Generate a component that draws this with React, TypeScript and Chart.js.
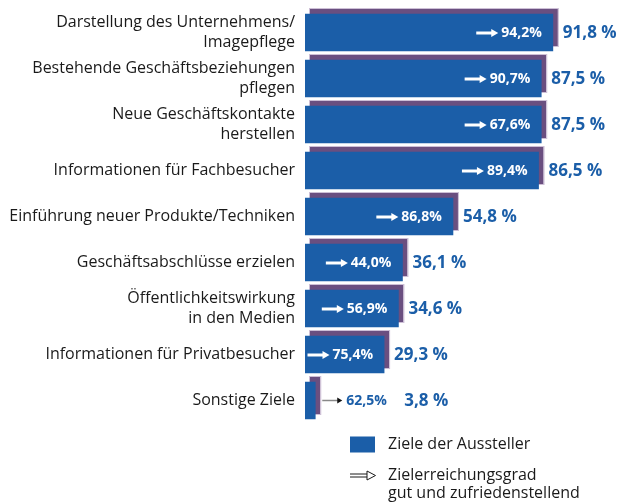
import React, { useEffect, useRef } from "react";
import { Chart, registerables } from "chart.js";

Chart.register(...registerables);

const categories: string[][] = [
  ["Darstellung des Unternehmens/", "Imagepflege"],
  ["Bestehende Geschäftsbeziehungen", "pflegen"],
  ["Neue Geschäftskontakte", "herstellen"],
  ["Informationen für Fachbesucher"],
  ["Einführung neuer Produkte/Techniken"],
  ["Geschäftsabschlüsse erzielen"],
  ["Öffentlichkeitswirkung", "in den Medien"],
  ["Informationen für Privatbesucher"],
  ["Sonstige Ziele"],
];
const zieleValues = [91.8, 87.5, 87.5, 86.5, 54.8, 36.1, 34.6, 29.3, 3.8];
const erreichungValues = [94.2, 90.7, 67.6, 89.4, 86.8, 44.0, 56.9, 75.4, 62.5];
const legendLabels = ["Ziele der Aussteller", "Zielerreichungsgrad", "gut und zufriedenstellend"];

const BLUE = "#1b5ea8";
const PURPLE = "#6a4f80";
const FONT = "'Open Sans', 'Noto Sans', sans-serif";

const fmt = (v: number) => v.toFixed(1).replace(".", ",");

function drawArrow(ctx: CanvasRenderingContext2D, x0: number, x1: number, y: number, color: string, lw: number, headW: number, headH: number, headColor?: string) {
  ctx.save();
  ctx.strokeStyle = color;
  ctx.lineWidth = lw;
  ctx.beginPath();
  ctx.moveTo(x0, y);
  ctx.lineTo(x1 - headW + 1, y);
  ctx.stroke();
  ctx.fillStyle = headColor || color;
  ctx.beginPath();
  ctx.moveTo(x1 - headW, y - headH / 2);
  ctx.lineTo(x1, y);
  ctx.lineTo(x1 - headW, y + headH / 2);
  ctx.closePath();
  ctx.fill();
  ctx.restore();
}

const shadowPlugin = {
  id: "shadowPlugin",
  beforeDatasetsDraw(chart: any) {
    const ctx = chart.ctx as CanvasRenderingContext2D;
    const meta = chart.getDatasetMeta(0);
    ctx.save();
    meta.data.forEach((bar: any) => {
      const { x, y, base, height } = bar.getProps(["x", "y", "base", "height"], true);
      const left = base + 5;
      const top = y - height / 2 - 5;
      const w = x + 5 - left;
      ctx.fillStyle = PURPLE;
      ctx.fillRect(left, top, w, height);
      ctx.strokeStyle = "#cdbfd6";
      ctx.lineWidth = 1;
      ctx.strokeRect(left - 0.5, top - 0.5, w + 1, height + 1);
    });
    ctx.restore();
  },
  afterDatasetsDraw(chart: any) {
    const ctx = chart.ctx as CanvasRenderingContext2D;
    const meta = chart.getDatasetMeta(0);
    ctx.save();
    ctx.textBaseline = "middle";
    meta.data.forEach((bar: any, i: number) => {
      const { x, y, base } = bar.getProps(["x", "y", "base"], true);
      const width = x - base;
      const inner = fmt(erreichungValues[i]) + "%";
      const inside = width > 40;
      ctx.font = `bold 14px ${FONT}`;
      if (inside) {
        const tw = ctx.measureText(inner).width;
        const tx = x - 11 - tw;
        ctx.fillStyle = "#ffffff";
        ctx.textAlign = "left";
        ctx.fillText(inner, tx, y + 1);
        drawArrow(ctx, tx - 25, tx - 3, y + 0.5, "#ffffff", 3, 7, 8);
      } else {
        const ax0 = x + 7;
        const ax1 = ax0 + 20;
        drawArrow(ctx, ax0, ax1, y, "#888888", 1.5, 5, 6, "#111111");
        ctx.fillStyle = BLUE;
        ctx.textAlign = "left";
        ctx.fillText(inner, ax1 + 4, y + 1);
      }
      ctx.font = `bold 17px ${FONT}`;
      ctx.fillStyle = BLUE;
      ctx.textAlign = "left";
      const outer = fmt(zieleValues[i]) + " %";
      const ox = inside ? x + 10 : x + 89;
      ctx.fillText(outer, ox, y + 1);
    });
    ctx.restore();
  },
  afterDraw(chart: any) {
    const ctx = chart.ctx as CanvasRenderingContext2D;
    const area = chart.chartArea;
    const lx = area.left + 45;
    const ly = area.bottom + 13;
    ctx.save();
    ctx.fillStyle = BLUE;
    ctx.fillRect(lx, ly, 25, 16);
    ctx.fillStyle = "#1a1a1a";
    ctx.font = `16px ${FONT}`;
    ctx.textBaseline = "middle";
    ctx.textAlign = "left";
    ctx.fillText(legendLabels[0], lx + 38, ly + 8);
    const ay = ly + 39;
    ctx.strokeStyle = "#1a1a1a";
    ctx.lineWidth = 1;
    ctx.beginPath();
    ctx.moveTo(lx, ay - 1.5);
    ctx.lineTo(lx + 17, ay - 1.5);
    ctx.moveTo(lx, ay + 1.5);
    ctx.lineTo(lx + 17, ay + 1.5);
    ctx.moveTo(lx + 17, ay - 4.5);
    ctx.lineTo(lx + 25.5, ay);
    ctx.lineTo(lx + 17, ay + 4.5);
    ctx.closePath();
    ctx.stroke();
    ctx.fillText(legendLabels[1], lx + 38, ay - 0.5);
    ctx.fillText(legendLabels[2], lx + 38, ay + 18);
    ctx.restore();
  },
};

export default function App() {
  const ref = useRef<HTMLCanvasElement | null>(null);
  useEffect(() => {
    if (!ref.current) return;
    const chart = new Chart(ref.current, {
      type: "bar",
      data: {
        labels: categories,
        datasets: [
          {
            label: legendLabels[0],
            data: zieleValues,
            backgroundColor: BLUE,
            borderWidth: 0,
            barThickness: 37,
          },
        ],
      },
      options: {
        indexAxis: "y",
        animation: false,
        responsive: false,
        maintainAspectRatio: false,
        layout: { padding: { left: 0, right: 43, top: 9.5, bottom: 78.5 } },
        plugins: { legend: { display: false }, tooltip: { enabled: false } },
        scales: {
          x: { display: false, min: 0, max: 100 },
          y: {
            grid: { display: false, drawTicks: false },
            border: { display: false },
            ticks: {
              color: "#1a1a1a",
              font: { family: FONT, size: 16, lineHeight: 1.25 },
              padding: 10,
            },
            afterFit(scale: any) {
              scale.width = 305;
              scale.paddingTop = 0;
              scale.paddingBottom = 0;
            },
          },
        },
      },
      plugins: [shadowPlugin],
    } as any);
    return () => chart.destroy();
  }, []);
  return (
    <div style={{ position: "absolute", left: 0, top: 0, width: 618, height: 502, background: "#fff" }}>
      <canvas ref={ref} width={618} height={502} style={{ width: 618, height: 502 }} />
    </div>
  );
}
